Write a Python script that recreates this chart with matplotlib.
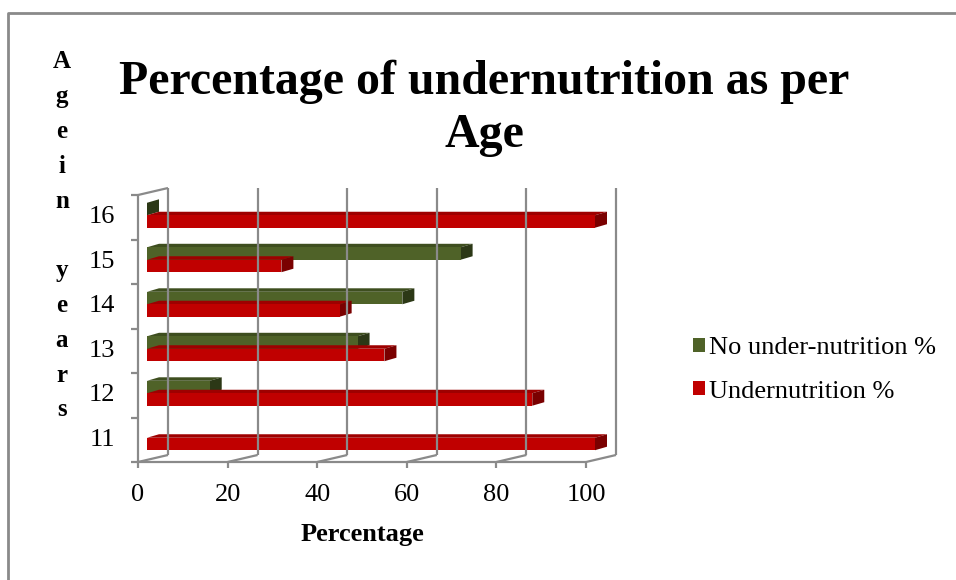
import matplotlib.pyplot as plt
from matplotlib.patches import Polygon, Patch

# data
ages = ["11", "12", "13", "14", "15", "16"]
no_under = [None, 14, 47, 57, 70, 0]
under = [100, 86, 53, 43, 30, 100]
x_ticks = [0, 20, 40, 60, 80, 100]

plt.rcParams['font.family'] = ['Liberation Serif', 'DejaVu Serif']

W, H = 956, 580
fig = plt.figure(figsize=(W / 100, H / 100), dpi=100)
ax = fig.add_axes([138 / W, (H - 462) / H, 448 / W, 267 / H])
ax.set_xlim(0, 100)
ax.set_ylim(-0.5, 5.5)
ax.axis("off")

grey = "#8a8a8a"
lw = 1.6
back = (30, 7)     # depth of the back wall, pixels
front = (9, 2)     # where bar front faces sit
depth = (12, 3.5)  # bar thickness

def disp(x, y, off=(0, 0)):
    px, py = ax.transData.transform((x, y))
    return px + off[0], py + off[1]

def line(p1, p2):
    fig.add_artist(plt.Line2D([p1[0], p2[0]], [p1[1], p2[1]], transform=None,
                              color=grey, lw=lw, solid_capstyle="butt"))

# back wall, floor and left wall
for xv in x_ticks:
    line(disp(xv, -0.5, back), disp(xv, 5.5, back))
    line(disp(xv, -0.5), disp(xv, -0.5, back))
    b = disp(xv, -0.5)
    line(b, (b[0], b[1] - 6))
line(disp(0, 5.5), disp(0, 5.5, back))
line(disp(0, -0.5), disp(0, 5.5))
line(disp(0, -0.5), disp(100, -0.5))
for k in range(len(ages) + 1):
    p = disp(0, k - 0.5)
    line(p, (p[0] - 7, p[1]))

# bars drawn as front, top and side faces
h = 0.28
series = [(no_under, 0.14, "#4f6228", "#3e4e1f", "#2c3816"),
          (under, -0.14, "#c00000", "#9e0000", "#7a0000")]
for vals, shift, c_front, c_top, c_side in series:
    for i, v in enumerate(vals):
        if v is None:
            continue
        y0, y1 = i + shift - h / 2, i + shift + h / 2
        a = disp(0, y0, front)
        b = disp(v, y1, front)
        dx, dy = depth
        front_face = Polygon([a, (b[0], a[1]), b, (a[0], b[1])], closed=True,
                             transform=None, facecolor=c_front, edgecolor="none")
        top_face = Polygon([(a[0], b[1]), b, (b[0] + dx, b[1] + dy), (a[0] + dx, b[1] + dy)],
                           closed=True, transform=None, facecolor=c_top, edgecolor="none")
        side_face = Polygon([(b[0], a[1]), b, (b[0] + dx, b[1] + dy), (b[0] + dx, a[1] + dy)],
                            closed=True, transform=None, facecolor=c_side, edgecolor="none")
        for p in (top_face, side_face, front_face):
            fig.add_artist(p)

# tick labels
for i, lab in enumerate(ages):
    px, py = disp(0, i)
    fig.text((px - 23) / W, py / H, lab, ha="right", va="center", fontsize=19)
for xv in x_ticks:
    px, py = disp(xv, -0.5)
    fig.text(px / W, (py - 33) / H, str(xv), ha="center", va="center", fontsize=19)

fig.text(362 / W, (H - 535) / H, "Percentage", ha="center", va="center",
         fontsize=19, fontweight="bold")

# stacked y label
letters = list("Agein years")
for i, ch in enumerate(letters):
    fig.text(62 / W, (H - 62 - i * 34.8) / H, ch, ha="center", va="center",
             fontsize=18, fontweight="bold")

fig.text(484 / W, (H - 82) / H, "Percentage of undernutrition as per", ha="center",
         va="center", fontsize=34.5, fontweight="bold")
fig.text(484 / W, (H - 135) / H, "Age", ha="center", va="center",
         fontsize=34.5, fontweight="bold")

handles = [Patch(facecolor="#4f6228", label="No under-nutrition %"),
           Patch(facecolor="#c00000", label="Undernutrition %")]
fig.legend(handles=handles, loc="center left", bbox_to_anchor=(693 / W, (H - 370) / H),
           frameon=False, fontsize=19, handlelength=0.45, handleheight=0.45,
           handletextpad=0.15, labelspacing=0.8, borderpad=0, borderaxespad=0)

# outer border (left and top only)
fig.add_artist(plt.Line2D([8 / W, 8 / W, 1], [0, (H - 13) / H, (H - 13) / H],
                          transform=fig.transFigure, color=grey, lw=2))

fig.savefig("out.png", dpi=100)
